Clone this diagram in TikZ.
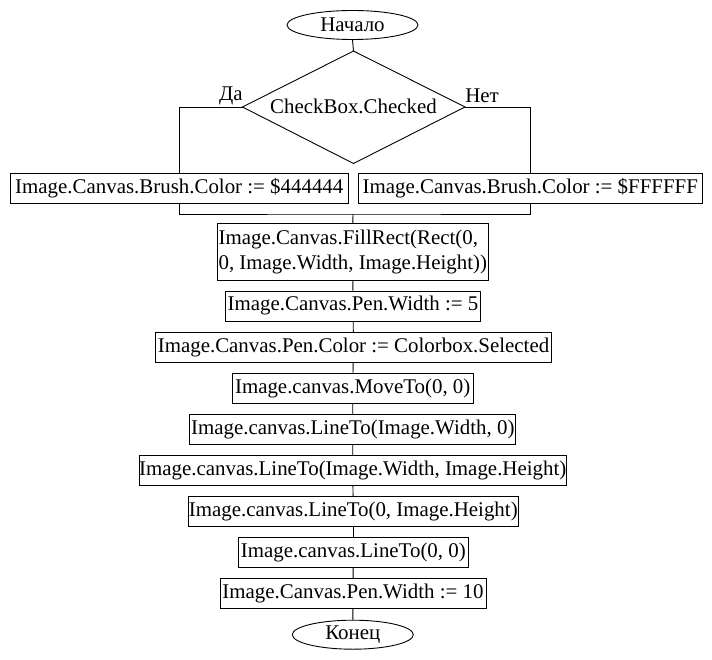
\documentclass[tikz,border=0pt]{standalone}
\usepackage{fontspec}
\setmainfont{Liberation Serif}
\usetikzlibrary{shapes.geometric}
\begin{document}
\begin{tikzpicture}[x=1pt,y=-1pt,
  every node/.style={font=\fontsize{20.9}{25}\selectfont, inner sep=0pt},
  box/.style={draw, line width=0.9pt, minimum height=30pt},
  term/.style={draw, ellipse, line width=0.9pt},
  conn/.style={line width=0.9pt},
  lbl/.style={}]
\useasboundingbox (0,0) rectangle (712,660);
\node[term, minimum width=131pt, minimum height=29pt] (start) at (352.5,25) {Начало};
\coordinate (dN) at (353.5,51);
\coordinate (dE) at (465,107);
\coordinate (dS) at (353.5,163.5);
\coordinate (dW) at (242.5,107);
\draw[conn] (dN) -- (dE) -- (dS) -- (dW) -- cycle;
\node (dtext) at (353.5,106) {CheckBox.Checked};
\node[box, minimum width=338pt] (bL) at (179.3,188) {Image.Canvas.Brush.Color := \$444444};
\node[box, minimum width=344pt] (bR) at (530.3,188) {Image.Canvas.Brush.Color := \$FFFFFF};
\node[box, minimum width=271pt, minimum height=57pt, align=left] (b2) at (352.8,252.3) {Image.Canvas.FillRect(Rect(0,\\0, Image.Width, Image.Height))};
\node[box, minimum width=255pt] (b3) at (353,306) {Image.Canvas.Pen.Width := 5};
\node[box, minimum width=396pt] (b4) at (353.5,347.5) {Image.Canvas.Pen.Color := Colorbox.Selected};
\node[box, minimum width=241pt] (b5) at (352.7,388.3) {Image.canvas.MoveTo(0, 0)};
\node[box, minimum width=326pt] (b6) at (352.8,429.2) {Image.canvas.LineTo(Image.Width, 0)};
\node[box, minimum width=425pt] (b7) at (352.7,470.3) {Image.canvas.LineTo(Image.Width, Image.Height)};
\node[box, minimum width=330pt] (b8) at (353.3,511.3) {Image.canvas.LineTo(0, Image.Height)};
\node[box, minimum width=230pt] (b9) at (353.3,552.5) {Image.canvas.LineTo(0, 0)};
\node[box, minimum width=266pt] (b10) at (353,593.7) {Image.Canvas.Pen.Width := 10};
\node[term, minimum width=121pt, minimum height=29pt] (end) at (352.8,634.7) {Конец};
\node[lbl] (yes) at (231,96) {Да};
\node[lbl] (no) at (482,96) {Нет};
\coordinate (m) at (353,214);
\draw[conn] (start.south) -- (dN);
\draw[conn] (dW) -| (bL.north);
\draw[conn] (dE) -| (bR.north);
\draw[conn] (bL.south) |- (m) -| (bR.south);
\draw[conn] (m) -- (b2.north);
\draw[conn] (b2) -- (b3);
\draw[conn] (b3) -- (b4);
\draw[conn] (b4) -- (b5);
\draw[conn] (b5) -- (b6);
\draw[conn] (b6) -- (b7);
\draw[conn] (b7) -- (b8);
\draw[conn] (b8) -- (b9);
\draw[conn] (b9) -- (b10);
\draw[conn] (b10) -- (end);
\end{tikzpicture}
\end{document}
